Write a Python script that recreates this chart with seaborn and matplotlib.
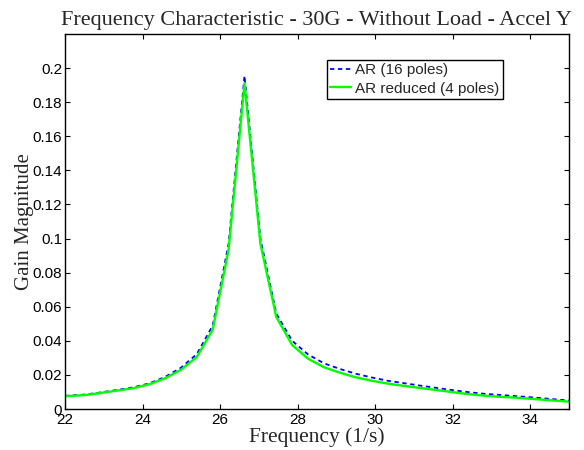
import matplotlib
matplotlib.use("Agg")
import matplotlib.pyplot as plt
import seaborn as sns
import pandas as pd

# Frequency grid (1/s)
freq = [22.00, 22.53, 22.94, 23.35, 23.76, 24.17, 24.58, 24.99, 25.40, 25.81,
        26.22, 26.63, 27.04, 27.45, 27.86, 28.27, 28.68, 29.09, 29.50, 29.91,
        30.32, 30.73, 31.14, 31.55, 31.96, 32.37, 32.78, 33.19, 33.60, 34.01,
        34.42, 34.83, 35.00]

# AR (16 poles)
gain_ar16 = [0.0077, 0.0085, 0.0098, 0.0112, 0.0127, 0.0150, 0.0188, 0.0242, 0.0322, 0.0490,
             0.0970, 0.1955, 0.1000, 0.0560, 0.0400, 0.0320, 0.0268, 0.0235, 0.0207, 0.0185,
             0.0166, 0.0152, 0.0138, 0.0125, 0.0112, 0.0100, 0.0090, 0.0083, 0.0076, 0.0069,
             0.0061, 0.0053, 0.0050]

# AR reduced (4 poles)
gain_ar4 = [0.0075, 0.0082, 0.0095, 0.0108, 0.0122, 0.0145, 0.0180, 0.0230, 0.0305, 0.0465,
            0.0935, 0.1910, 0.0970, 0.0540, 0.0375, 0.0295, 0.0245, 0.0213, 0.0186, 0.0166,
            0.0149, 0.0136, 0.0124, 0.0112, 0.0100, 0.0088, 0.0079, 0.0072, 0.0067, 0.0060,
            0.0053, 0.0046, 0.0043]

series_names = ["AR (16 poles)", "AR reduced (4 poles)"]
x_ticks = [22, 24, 26, 28, 30, 32, 34]
y_ticks = [0, 0.02, 0.04, 0.06, 0.08, 0.1, 0.12, 0.14, 0.16, 0.18, 0.2]
y_tick_labels = ["0", "0.02", "0.04", "0.06", "0.08", "0.1", "0.12", "0.14", "0.16", "0.18", "0.2"]

df = pd.DataFrame({
    "Frequency": freq * 2,
    "Gain": gain_ar16 + gain_ar4,
    "Model": [series_names[0]] * len(freq) + [series_names[1]] * len(freq),
})

sns.set_style("ticks")
plt.rcParams["font.family"] = ["Liberation Sans", "DejaVu Sans"]

fig = plt.figure(figsize=(5.84, 4.5), dpi=100)
ax = fig.add_axes([0.1113, 0.0911, 0.8630, 0.8333])

sns.lineplot(data=df[df["Model"] == series_names[0]], x="Frequency", y="Gain",
             ax=ax, color=(0, 0, 1), linewidth=1.3, label=series_names[0],
             estimator=None, sort=False)
ax.lines[-1].set_dashes((2.4, 2.0))
sns.lineplot(data=df[df["Model"] == series_names[1]], x="Frequency", y="Gain",
             ax=ax, color=(0, 1, 0), linewidth=1.7, label=series_names[1],
             estimator=None, sort=False)

ax.set_xlim(22, 35)
ax.set_ylim(0, 0.22)
ax.set_xticks(x_ticks)
ax.set_xticklabels([str(t) for t in x_ticks])
ax.set_yticks(y_ticks)
ax.set_yticklabels(y_tick_labels)

for s in ax.spines.values():
    s.set_visible(True)
    s.set_color("black")
    s.set_linewidth(1.0)

ax.tick_params(axis="both", direction="in", length=3.6, width=0.8, color="black",
               top=True, right=True, labelsize=11, labelcolor="black")
ax.tick_params(axis="x", pad=3)
ax.tick_params(axis="y", pad=2)

serif = ["Liberation Serif", "DejaVu Serif"]
ax.set_title("Frequency Characteristic - 30G - Without Load - Accel Y",
             family=serif, fontsize=16, pad=6.5)
ax.set_xlabel("Frequency (1/s)", family=serif, fontsize=15.5)
ax.set_ylabel("Gain Magnitude", family=serif, fontsize=15)
ax.xaxis.set_label_coords(0.5, -0.05)
ax.yaxis.set_label_coords(-0.061, 0.5)

leg = ax.legend(loc="upper left", bbox_to_anchor=(0.52, 0.931), borderaxespad=0,
                fontsize=11, frameon=True, fancybox=False, framealpha=1,
                edgecolor="black", handlelength=1.35, handletextpad=0.26,
                borderpad=0.22, labelspacing=0.3)
leg.get_frame().set_linewidth(1.0)
leg.get_lines()[0].set_dashes((2.4, 2.0))

fig.savefig("out.png", dpi=100, facecolor="white")
